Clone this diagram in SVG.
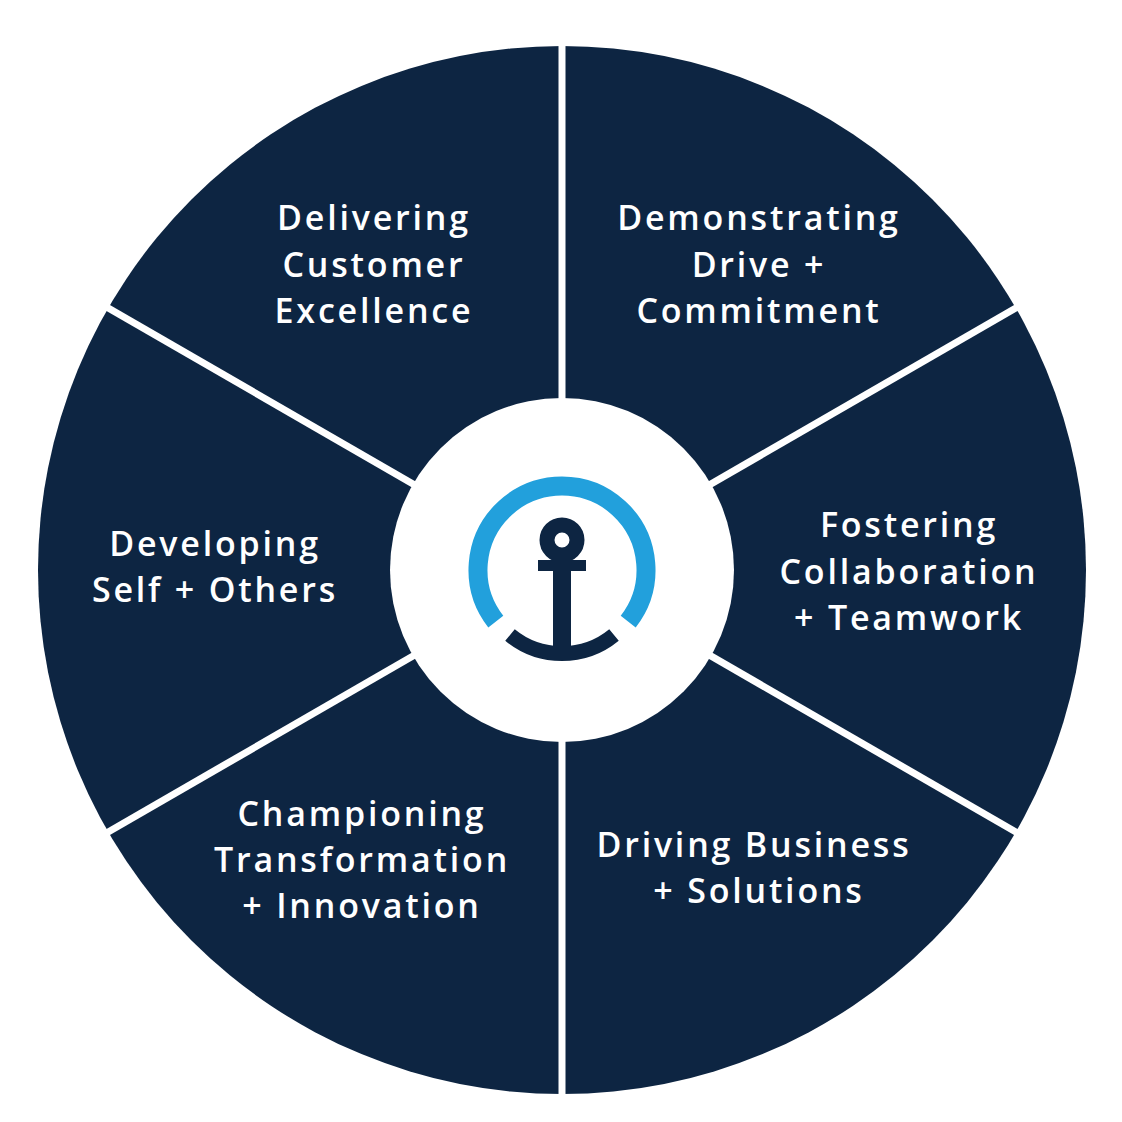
<svg xmlns="http://www.w3.org/2000/svg" width="1122" height="1122" viewBox="0 0 1122 1122">
<style>
.t{font-family:"Open Sans","Liberation Sans",sans-serif;font-weight:600;font-size:34px;fill:#fff;text-anchor:middle;letter-spacing:2.8px}
.sep{stroke:#fff;stroke-width:7}
</style>
<rect width="1122" height="1122" fill="#fff"/>
<g id="wheel">
<circle cx="562" cy="570" r="524" fill="#0d2542"/>
</g>
<g id="connectors">
<line class="sep" x1="562" y1="40" x2="562" y2="1100"/>
<line class="sep" x1="103" y1="305" x2="1021" y2="835"/>
<line class="sep" x1="103" y1="835" x2="1021" y2="305"/>
</g>
<g id="center">
<circle cx="562" cy="570" r="172" fill="#fff"/>
<path d="M 495.8 621.7 A 84 84 0 1 1 628.2 621.7" fill="none" stroke="#22a0dc" stroke-width="19"/>
<path d="M 510 635 A 82 82 0 0 0 614 635" fill="none" stroke="#0d2542" stroke-width="15"/>
<circle cx="562" cy="540" r="15" fill="none" stroke="#0d2542" stroke-width="15"/>
<rect x="538" y="560" width="48" height="11" fill="#0d2542"/>
<rect x="553" y="548" width="18" height="100" fill="#0d2542"/>
</g>
<g id="n1"><text class="t" x="374" y="230">Delivering</text><text class="t" x="374" y="277">Customer</text><text class="t" x="374" y="323">Excellence</text></g>
<g id="n2"><text class="t" x="759" y="230">Demonstrating</text><text class="t" x="759" y="277">Drive +</text><text class="t" x="759" y="323">Commitment</text></g>
<g id="n3"><text class="t" x="909" y="537">Fostering</text><text class="t" x="909" y="584">Collaboration</text><text class="t" x="909" y="630">+ Teamwork</text></g>
<g id="n4"><text class="t" x="754" y="857">Driving Business</text><text class="t" x="759" y="903">+ Solutions</text></g>
<g id="n5"><text class="t" x="362" y="826">Championing</text><text class="t" x="362" y="872">Transformation</text><text class="t" x="362" y="918">+ Innovation</text></g>
<g id="n6"><text class="t" x="215" y="556">Developing</text><text class="t" x="215" y="602">Self + Others</text></g>
</svg>
